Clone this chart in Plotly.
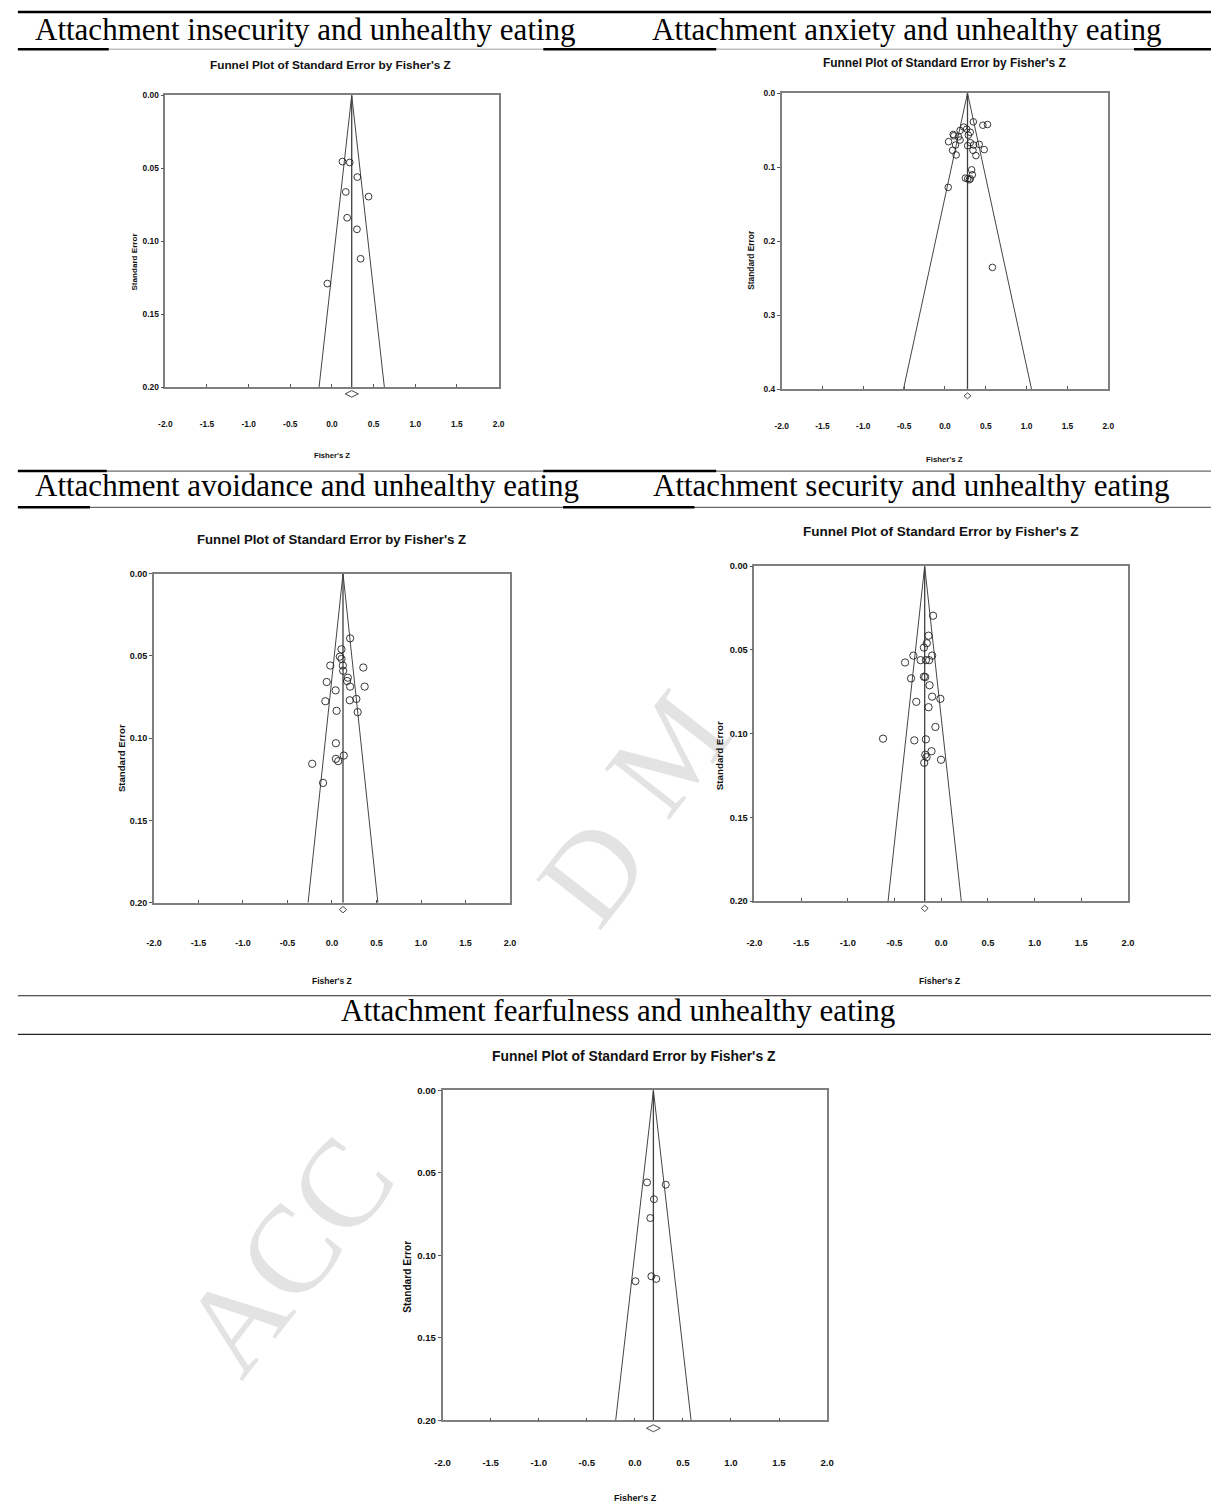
import plotly.graph_objects as go

W, H = 1218, 1509

# ---------------- data ----------------
headers = [
    "Attachment insecurity and unhealthy eating",
    "Attachment anxiety and unhealthy eating",
    "Attachment avoidance and unhealthy eating",
    "Attachment security and unhealthy eating",
    "Attachment fearfulness and unhealthy eating",
]
plot_title = "Funnel Plot of Standard Error by Fisher's Z"
x_title = "Fisher's Z"
y_title = "Standard Error"
watermark = "ACCEPTED MANUSCRIPT"

x_ticks = [-2.0, -1.5, -1.0, -0.5, 0.0, 0.5, 1.0, 1.5, 2.0]
se_ticks_020 = [0.00, 0.05, 0.10, 0.15, 0.20]
se_ticks_040 = [0.0, 0.1, 0.2, 0.3, 0.4]

# Panel 1: attachment insecurity
insec_z = [0.126, 0.213, 0.304, 0.166, 0.439, 0.182, 0.300, 0.344, -0.055]
insec_se = [0.0454, 0.0460, 0.0560, 0.0662, 0.0694, 0.0839, 0.0918, 0.1120, 0.1290]
insec_mean = 0.237
insec_ci = [0.158, 0.316]

# Panel 2: attachment anxiety
anx_z = [0.347, 0.464, 0.520, 0.230, 0.185, 0.266, 0.310, 0.286, 0.101, 0.109,
         0.165, 0.185, 0.044, 0.129, 0.310, 0.278, 0.351, 0.419, 0.343, 0.480,
         0.093, 0.137, 0.379, 0.327, 0.335, 0.250, 0.278, 0.298, 0.310, 0.040,
         0.581]
anx_se = [0.0389, 0.0434, 0.0425, 0.0460, 0.0505, 0.0487, 0.0530, 0.0568, 0.0559, 0.0577,
          0.0590, 0.0635, 0.0657, 0.0702, 0.0670, 0.0711, 0.0702, 0.0693, 0.0773, 0.0764,
          0.0773, 0.0836, 0.0845, 0.1037, 0.1104, 0.1149, 0.1158, 0.1171, 0.1158, 0.1274,
          0.2355]
anx_mean = 0.276
anx_ci = [0.234, 0.318]

# Panel 3: attachment avoidance
avoid_z = [0.204, 0.107, 0.089, 0.107, -0.019, 0.122, 0.352, 0.126, 0.178, 0.170,
           -0.059, 0.204, 0.367, 0.041, 0.274, -0.074, 0.200, 0.052, 0.289, 0.044,
           0.133, 0.044, 0.070, -0.222, -0.100]
avoid_se = [0.0394, 0.0460, 0.0505, 0.0519, 0.0559, 0.0559, 0.0571, 0.0591, 0.0633, 0.0653,
            0.0659, 0.0687, 0.0687, 0.0710, 0.0762, 0.0776, 0.0770, 0.0834, 0.0842, 0.1031,
            0.1106, 0.1126, 0.1140, 0.1156, 0.1272]
avoid_mean = 0.124
avoid_ci = [0.083, 0.165]

# Panel 4: attachment security
sec_z = [-0.087, -0.136, -0.154, -0.185, -0.298, -0.097, -0.221, -0.164, -0.129, -0.387,
         -0.323, -0.185, -0.171, -0.125, -0.097, -0.009, -0.267, -0.136, -0.062, -0.623,
         -0.288, -0.164, -0.104, -0.171, -0.157, -0.002, -0.182]
sec_se = [0.0296, 0.0415, 0.0460, 0.0486, 0.0534, 0.0534, 0.0561, 0.0561, 0.0561, 0.0575,
          0.0670, 0.0660, 0.0662, 0.0711, 0.0779, 0.0792, 0.0810, 0.0842, 0.0960, 0.1030,
          0.1040, 0.1034, 0.1105, 0.1126, 0.1140, 0.1156, 0.1174]
sec_mean = -0.177
sec_ci = [-0.214, -0.140]

# Panel 5: attachment fearfulness
fear_z = [0.127, 0.322, 0.199, 0.161, 0.172, 0.223, 0.007]
fear_se = [0.0558, 0.0572, 0.0660, 0.0774, 0.1127, 0.1143, 0.1157]
fear_mean = 0.193
fear_ci = [0.121, 0.265]

# ---------------- layout / style ----------------
FONT_SANS = "Liberation Sans"
FONT_SERIF = "Liberation Serif"

panels = [
    dict(z=insec_z, se=insec_se, mean=insec_mean, ci=insec_ci, yticks=se_ticks_020, ydec=2,
         box=(159.3, 90.0, 496.7, 384.0), title_xy=(327, 59), xtitle_xy=(328, 453), ytitle_xy=(128, 257),
         f_title=11.8, f_tick=8.4, f_ytitle=8.1, f_xtitle=7.7, xlab_y=419,
         doff=6.7, dh=3.3, msize=6.8),
    dict(z=anx_z, se=anx_se, mean=anx_mean, ci=anx_ci, yticks=se_ticks_040, ydec=1,
         box=(783.3, 87.7, 1114.0, 386.0), title_xy=(948, 57), xtitle_xy=(948, 457), ytitle_xy=(752, 256),
         f_title=11.9, f_tick=8.4, f_ytitle=8.4, f_xtitle=7.8, xlab_y=421,
         doff=6.7, dh=3.0, msize=6.6),
    dict(z=avoid_z, se=avoid_se, mean=avoid_mean, ci=avoid_ci, yticks=se_ticks_020, ydec=2,
         box=(147.7, 571.7, 508.3, 903.3), title_xy=(327.7, 537), xtitle_xy=(327.7, 981.7), ytitle_xy=(115, 758),
         f_title=13.2, f_tick=9.0, f_ytitle=9.6, f_xtitle=8.5, xlab_y=942,
         doff=7.0, dh=3.2, msize=7.3),
    dict(z=sec_z, se=sec_se, mean=sec_mean, ci=sec_ci, yticks=se_ticks_020, ydec=2,
         box=(755.7, 564.3, 1134.0, 901.7), title_xy=(944.3, 529.3), xtitle_xy=(944, 981.7), ytitle_xy=(720.7, 755),
         f_title=13.5, f_tick=9.3, f_ytitle=9.8, f_xtitle=8.8, xlab_y=941.7,
         doff=7.3, dh=3.2, msize=7.3),
    dict(z=fear_z, se=fear_se, mean=fear_mean, ci=fear_ci, yticks=se_ticks_020, ydec=2,
         box=(440.0, 1092.3, 829.3, 1424.7), title_xy=(634.3, 1057.3), xtitle_xy=(635, 1502.5), ytitle_xy=(405, 1280),
         f_title=13.9, f_tick=9.6, f_ytitle=10.2, f_xtitle=9.0, xlab_y=1464.3,
         doff=8.0, dh=3.5, msize=7.0),
]


def px(x):
    return x / W


def py(y):
    return 1 - y / H


fig = go.Figure()
annotations = []
shapes = []

# faint watermark (only the parts that show between the panels)
wm_pieces = [(watermark[0:3], 283, 1258), (watermark[7], 592, 872), (watermark[9], 668, 752)]
for txt, cx, cy in wm_pieces:
    annotations.append(dict(text=txt, x=px(cx), y=py(cy), xref="paper", yref="paper",
                            xanchor="center", yanchor="middle", showarrow=False, textangle=-52,
                            font=dict(family=FONT_SERIF, size=125, color="#e3e3e3")))

x_ticktext = [f"{v:.1f}" for v in x_ticks]   # plain hyphen minus, as in the reference

for i, p in enumerate(panels):
    n = "" if i == 0 else str(i + 1)
    xa, ya = "x" + n, "y" + n
    L, T, R, B = p["box"]
    ymax = p["yticks"][-1]
    m = p["mean"]
    # funnel (95% pseudo-confidence limits) and summary line
    fig.add_trace(go.Scatter(x=[m - 1.96 * ymax, m, m + 1.96 * ymax], y=[ymax, 0, ymax],
                             mode="lines", line=dict(color="#454545", width=1),
                             xaxis=xa, yaxis=ya, showlegend=False, hoverinfo="skip"))
    fig.add_trace(go.Scatter(x=[m, m], y=[0, ymax], mode="lines",
                             line=dict(color="#404040", width=1.3),
                             xaxis=xa, yaxis=ya, showlegend=False, hoverinfo="skip"))
    # studies
    fig.add_trace(go.Scatter(x=p["z"], y=p["se"], mode="markers",
                             marker=dict(symbol="circle-open", size=p["msize"], color="#222222",
                                         line=dict(width=0.9, color="#222222")),
                             xaxis=xa, yaxis=ya, showlegend=False))
    # summary diamond (95% CI of the pooled effect) just under the axis
    lo, hi = p["ci"]
    yc = py(B + p["doff"])
    dh = p["dh"] / H
    shapes.append(dict(type="path", xref=xa, yref="paper",
                       path=f"M {lo},{yc} L {m},{yc + dh} L {hi},{yc} L {m},{yc - dh} Z",
                       line=dict(color="#333333", width=0.9), fillcolor="rgba(0,0,0,0)"))

    tickfont = dict(family=FONT_SANS, size=p["f_tick"], color="#111111", weight="bold")
    y_ticktext = [f"{v:.{p['ydec']}f}" for v in p["yticks"]]
    fig.update_layout(**{
        "xaxis" + n: dict(domain=[px(L), px(R)], anchor=ya, range=[-2, 2],
                          tickmode="array", tickvals=x_ticks, ticktext=x_ticktext,
                          ticks="inside", ticklen=3, tickcolor="#555555", tickwidth=1,
                          showline=True, mirror=True, linecolor="#7f7f7f", linewidth=1.5,
                          showgrid=False, zeroline=False, tickfont=tickfont,
                          ticklabelstandoff=int(round(p["xlab_y"] - B - p["f_tick"] * 0.5 - 3)),
                          fixedrange=True),
        "yaxis" + n: dict(domain=[py(B), py(T)], anchor=xa, range=[ymax, 0],
                          tickmode="array", tickvals=p["yticks"], ticktext=y_ticktext,
                          ticks="outside", ticklen=3, tickcolor="#555555", tickwidth=1,
                          showline=True, mirror=True, linecolor="#7f7f7f", linewidth=1.5,
                          showgrid=False, zeroline=False, tickfont=tickfont, fixedrange=True),
    })
    tx, ty = p["title_xy"]
    annotations.append(dict(text=plot_title, x=px(tx), y=py(ty), xref="paper", yref="paper",
                            xanchor="center", yanchor="middle", showarrow=False,
                            font=dict(family=FONT_SANS, size=p["f_title"], color="#111111", weight="bold")))
    xtx, xty = p["xtitle_xy"]
    annotations.append(dict(text=x_title, x=px(xtx), y=py(xty), xref="paper", yref="paper",
                            xanchor="center", yanchor="middle", showarrow=False,
                            font=dict(family=FONT_SANS, size=p["f_xtitle"], color="#111111", weight="bold")))
    ytx, yty = p["ytitle_xy"]
    annotations.append(dict(text=y_title, x=px(ytx), y=py(yty), xref="paper", yref="paper",
                            xanchor="center", yanchor="middle", showarrow=False, textangle=-90,
                            font=dict(family=FONT_SANS, size=p["f_ytitle"], color="#111111", weight="bold")))

# table row headings
header_pos = [(25, 24, "left"), (650, 24, "left"), (25, 483, "left"), (651, 483, "left"), (617.5, 1012, "center")]
for txt, (hx, hy, anc) in zip(headers, header_pos):
    annotations.append(dict(text=txt, x=px(hx), y=py(hy), xref="paper", yref="paper",
                            xanchor=anc, yanchor="middle", showarrow=False,
                            font=dict(family=FONT_SERIF, size=31, color="#000000")))

# table rules
def hline(y, x0, x1, color, width):
    shapes.append(dict(type="line", xref="paper", yref="paper", x0=px(x0), x1=px(x1),
                       y0=py(y), y1=py(y), line=dict(color=color, width=width)))

hline(6, 10, 1218, "#000000", 2.5)
hline(43.5, 10, 1218, "#a0a0a0", 1)
for a, b in [(10, 102), (542, 717), (1140, 1218)]:
    hline(43.5, a, b, "#000000", 2.5)
hline(468.5, 10, 1218, "#444444", 1)
for a, b in [(10, 100), (542, 717)]:
    hline(468.5, a, b, "#000000", 2.5)
hline(505, 10, 1218, "#444444", 1)
for a, b in [(10, 83), (562, 695)]:
    hline(505, a, b, "#000000", 2.5)
hline(997, 10, 1218, "#222222", 1.2)
hline(1036, 10, 1218, "#222222", 1.2)

fig.update_layout(width=W, height=H, margin=dict(l=0, r=0, t=0, b=0),
                  paper_bgcolor="white", plot_bgcolor="white",
                  annotations=annotations, shapes=shapes, showlegend=False)

fig.write_html("out.html", config={"displayModeBar": False},
               post_script="document.body.style.margin='0';")
